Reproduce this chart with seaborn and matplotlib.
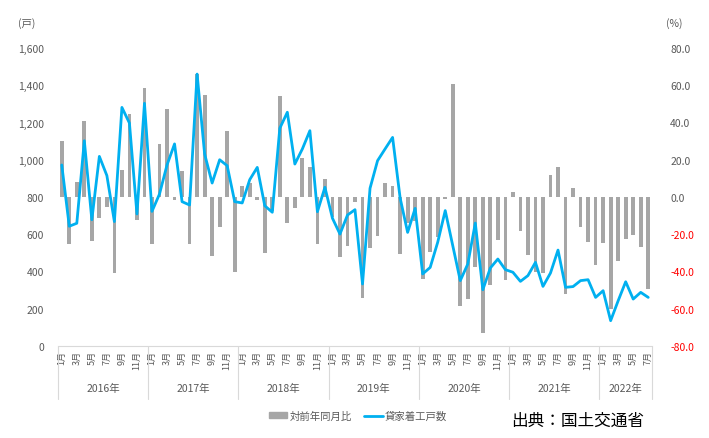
import matplotlib
matplotlib.use("Agg")
import matplotlib.pyplot as plt
import matplotlib.transforms as mtransforms
from matplotlib.patches import Patch
from matplotlib.lines import Line2D
import seaborn as sns
import pandas as pd

sns.set_style("white")
plt.rcParams['font.family'] = ['Noto Sans CJK JP', 'DejaVu Sans']

years = ['2016年', '2017年', '2018年', '2019年', '2020年', '2021年', '2022年']
months_per_year = [12, 12, 12, 12, 12, 12, 7]

# 貸家着工戸数 (戸)
units = [
    972, 643, 659, 1102, 678, 1018, 915, 668, 1281, 1197, 709, 1303,
    723, 816, 972, 1085, 775, 757, 1460, 1031, 875, 1000, 968, 775,
    768, 893, 959, 753, 718, 1169, 1255, 977, 1058, 1156, 721, 852,
    686, 601, 703, 732, 333, 847, 995, 1058, 1120, 795, 610, 739,
    387, 422, 557, 727, 539, 351, 440, 660, 302, 419, 467, 410,
    396, 347, 378, 449, 320, 392, 515, 315, 319, 351, 356, 261,
    297, 136, 243, 345, 252, 288, 261,
]

# 対前年同月比 (%)
yoy = [
    30, -25, 8, 41, -23.5, -11.5, -5.5, -41, 14.5, 44.5, -12.5, 58.5,
    -25, 28.5, 47.5, -1.5, 13.8, -25.2, 66, 54.5, -31.5, -16, 35.6, -40,
    6, 7.5, -1.5, -30.2, -7.4, 54, -14, -6, 20.8, 16, -25.2, 9.7,
    -10.7, -32, -26.2, -2.5, -54, -27.6, -20.8, 7.5, 5.8, -30.8, -14, -12.8,
    -44, -29.7, -21.5, -1, 60.7, -58.4, -54.8, -37.4, -72.8, -47.5, -23, -44.4,
    2.5, -18.5, -31, -40, -40.7, 12, 16, -52, 5, -16.2, -24, -36.3,
    -24.8, -60.3, -34.5, -22.5, -20.6, -27, -49.6,
]

month_labels = []
for n in months_per_year:
    month_labels += [f'{m}月' for m in range(1, n + 1)]

df = pd.DataFrame({'idx': range(len(units)), 'units': units, 'yoy': yoy,
                   'month': month_labels})

bar_color = '#a6a6a6'
line_color = '#00b0f0'
text_color = '#595959'

fig = plt.figure(figsize=(7.09, 4.39), dpi=100)
ax = fig.add_axes([58 / 709, 1 - 347 / 439, (652 - 58) / 709, 298 / 439])
ax2 = ax.twinx()

# bars -> right axis (%)
sns.barplot(data=df, x='idx', y='yoy', ax=ax, color=bar_color, width=0.5,
            linewidth=0, saturation=1)
ax.set_ylim(-80, 80)
ax.yaxis.tick_right()
ax.set_yticks(range(-80, 81, 20))
ax.set_yticklabels([f'{v:.1f}' for v in range(-80, 81, 20)])
for lab, v in zip(ax.get_yticklabels(), range(-80, 81, 20)):
    lab.set_color('#ff0000' if v < 0 else text_color)
ax.tick_params(axis='y', length=0, labelsize=7.5, pad=13)

# line -> left axis (戸)
sns.lineplot(data=df, x='idx', y='units', ax=ax2, color=line_color, lw=2)
ax2.set_ylim(0, 1600)
ax2.yaxis.tick_left()
ax2.set_yticks(range(0, 1601, 200))
ax2.set_yticklabels([f'{v:,}' for v in range(0, 1601, 200)])
ax2.tick_params(axis='y', length=0, labelsize=7.5, labelcolor=text_color, pad=10)

n = len(units)
ax.set_xlim(-0.5, n - 0.5)
odd = [i for i, m in enumerate(month_labels) if int(m[:-1]) % 2 == 1]
ax.set_xticks(odd)
ax.set_xticklabels([month_labels[i] for i in odd], rotation=90,
                   fontsize=6.5, color=text_color)
ax.tick_params(axis='x', length=0, pad=3)

for a in (ax, ax2):
    a.set_xlabel('')
    a.set_ylabel('')
    for s in ['top', 'left', 'right']:
        a.spines[s].set_visible(False)
    a.spines['bottom'].set_color('#d9d9d9')
ax2.spines['bottom'].set_visible(False)

# year labels and separators
trans = mtransforms.blended_transform_factory(ax.transData, ax.transAxes)
start = -0.5
bounds = [start]
for yname, cnt in zip(years, months_per_year):
    end = start + cnt
    ax.text((start + end) / 2, (347 - 389) / 298, yname, transform=trans,
            ha='center', va='center', fontsize=7.5, color=text_color)
    start = end
    bounds.append(end)
for b in bounds:
    ax.plot([b, b], [0, (347 - 400) / 298], transform=trans, color='#d9d9d9',
            lw=0.8, clip_on=False)

fig.text(27 / 709, 1 - 24 / 439, '(戸)', ha='center', va='center',
         fontsize=7.5, color=text_color)
fig.text(674 / 709, 1 - 24 / 439, '(%)', ha='center', va='center',
         fontsize=7.5, color=text_color)

handles = [Patch(color=bar_color, label='対前年同月比'),
           Line2D([0], [0], color=line_color, lw=2, label='貸家着工戸数')]
fig.legend(handles=handles, loc='center', ncol=2, frameon=False,
           bbox_to_anchor=(358 / 709, 1 - 417 / 439), fontsize=7.5,
           labelcolor=text_color, handlelength=1.8, handleheight=0.5,
           columnspacing=1.2, handletextpad=0.2)

fig.text(578 / 709, 1 - 421 / 439, '出典：国土交通省', ha='center', va='center',
         fontsize=12, color='black')

fig.savefig('out.png', dpi=100)
